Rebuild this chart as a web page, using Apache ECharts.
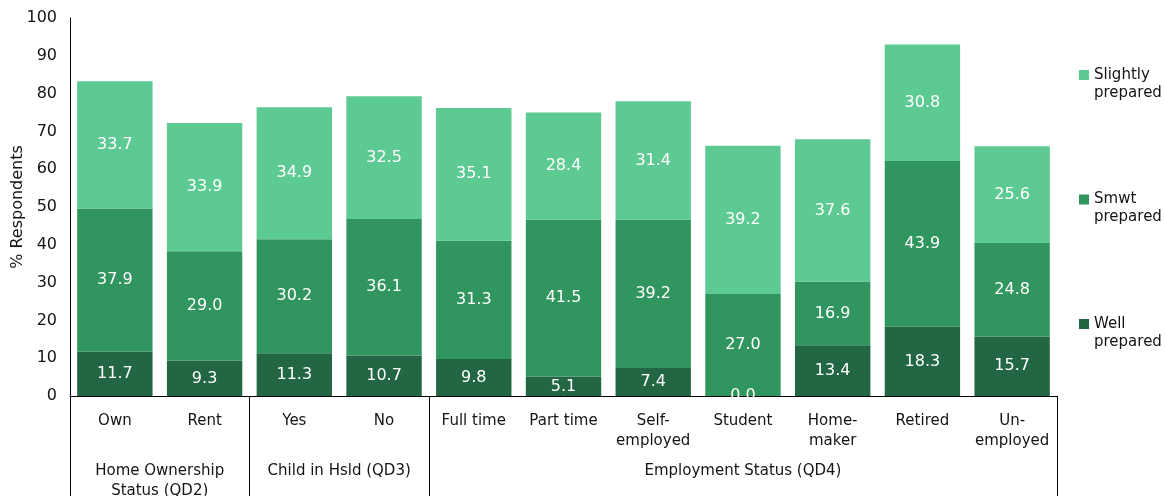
<!DOCTYPE html>
<html>
<head>
<meta charset="utf-8">
<script src="https://cdn.jsdelivr.net/npm/echarts@6/dist/echarts.min.js"></script>
<style>
  html, body { margin: 0; padding: 0; background: #fff; }
  #chart { width: 1165px; height: 496px; }
</style>
</head>
<body>
<div id="chart"></div>
<script>
// Preparedness by respondent group (% of respondents)
const categories = ['Own', 'Rent', 'Yes', 'No', 'Full time', 'Part time', 'Self-\nemployed',
  'Student', 'Home-\nmaker', 'Retired', 'Un-\nemployed'];
const wellPrepared     = [11.7, 9.3, 11.3, 10.7, 9.8, 5.1, 7.4, 0.0, 13.4, 18.3, 15.7];
const smwtPrepared     = [37.9, 29.0, 30.2, 36.1, 31.3, 41.5, 39.2, 27.0, 16.9, 43.9, 24.8];
const slightlyPrepared = [33.7, 33.9, 34.9, 32.5, 35.1, 28.4, 31.4, 39.2, 37.6, 30.8, 25.6];

const groupNames  = ['Home Ownership\nStatus (QD2)', 'Child in Hsld (QD3)', 'Employment Status (QD4)'];
const groupStarts = [0, 2, 4];
const groupSizes  = [2, 2, 7];

const yMin = 0, yMax = 100, yStep = 10;

const COLORS = { well: '#226643', smwt: '#31955f', slightly: '#5dc993' };
const FONT = '"DejaVu Sans", sans-serif';
const TEXT = '#141414';

const groupCenters = groupStarts.map((s, i) => s + groupSizes[i] / 2);

// legend swatch: square at the top of a tall box so it lines up with the first text line
const swatch = 'path://M0,0h0.01v0.01h-0.01z M0,4h10v10h-10z M0,35.99h0.01v0.01h-0.01z';

function stackSeries(name, data, color) {
  return {
    name: name,
    type: 'bar',
    stack: 'total',
    data: data,
    barCategoryGap: '16%',
    itemStyle: { color: color },
    label: {
      show: true,
      position: 'inside',
      color: '#fff',
      fontFamily: FONT,
      fontSize: 16,
      formatter: p => p.value.toFixed(1)
    },
    emphasis: { disabled: true }
  };
}

const chart = echarts.init(document.getElementById('chart'), null, { renderer: 'canvas' });

chart.setOption({
  animation: false,
  backgroundColor: '#fff',
  textStyle: { fontFamily: FONT, color: TEXT },
  grid: { left: 70, right: 108, top: 18, bottom: 100, containLabel: false, outerBoundsMode: 'none' },
  legend: {
    orient: 'vertical',
    left: 1079,
    top: 66,
    padding: 0,
    itemGap: 88.5,
    itemWidth: 10,
    itemHeight: 36,
    icon: swatch,
    selectedMode: false,
    data: ['Slightly\nprepared', 'Smwt\nprepared', 'Well\nprepared'],
    textStyle: { fontFamily: FONT, fontSize: 15, lineHeight: 18, color: TEXT }
  },
  xAxis: [
    {
      type: 'category',
      data: categories,
      axisLine: { show: true, lineStyle: { color: '#000', width: 1 } },
      axisTick: {
        show: true,
        length: 100,
        interval: idx => groupStarts.includes(idx),
        lineStyle: { color: '#000', width: 1 }
      },
      axisLabel: {
        interval: 0,
        margin: 15,
        fontFamily: FONT,
        fontSize: 15,
        lineHeight: 20,
        color: TEXT
      }
    },
    {
      type: 'value',
      min: 0,
      max: categories.length,
      position: 'bottom',
      axisLine: { show: false },
      axisTick: { show: false },
      splitLine: { show: false },
      axisLabel: {
        customValues: groupCenters,
        margin: 65,
        fontFamily: FONT,
        fontSize: 15,
        lineHeight: 20,
        color: TEXT,
        formatter: v => {
          const i = groupCenters.indexOf(v);
          return i >= 0 ? groupNames[i] : '';
        }
      }
    }
  ],
  yAxis: {
    type: 'value',
    min: yMin,
    max: yMax,
    interval: yStep,
    name: '% Respondents',
    nameLocation: 'middle',
    nameGap: 44,
    nameMoveOverlap: false,
    nameTextStyle: { fontFamily: FONT, fontSize: 16, color: TEXT },
    axisLine: { show: true, lineStyle: { color: '#000', width: 1 } },
    axisTick: { show: false },
    splitLine: { show: false },
    axisLabel: { fontFamily: FONT, fontSize: 16, color: TEXT, margin: 13 }
  },
  series: [
    stackSeries('Well\nprepared', wellPrepared, COLORS.well),
    stackSeries('Smwt\nprepared', smwtPrepared, COLORS.smwt),
    stackSeries('Slightly\nprepared', slightlyPrepared, COLORS.slightly)
  ]
});

// zero-height bars: hide the part of their label that falls below the baseline
const masks = [];
const base0 = chart.convertToPixel({ xAxisIndex: 0, yAxisIndex: 0 }, [0, 0]);
const base1 = chart.convertToPixel({ xAxisIndex: 0, yAxisIndex: 0 }, [1, 0]);
const band = base1[0] - base0[0];
wellPrepared.forEach((v, i) => {
  if (v === 0) {
    const p = chart.convertToPixel({ xAxisIndex: 0, yAxisIndex: 0 }, [i, 0]);
    masks.push({
      type: 'rect',
      z: 100,
      shape: { x: p[0] - band * 0.42, y: p[1] + 1, width: band * 0.84, height: 10 },
      style: { fill: '#fff' }
    });
  }
});
chart.setOption({ graphic: masks });
</script>
</body>
</html>
